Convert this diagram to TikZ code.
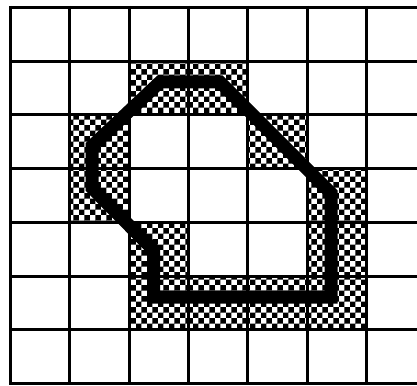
\documentclass[tikz,border=0pt]{standalone}
\usetikzlibrary{patterns}
\begin{document}
\begin{tikzpicture}[x=1pt,y=-1pt,
  cell/.style={pattern=checkerboard, pattern color=black},
  gridline/.style={line width=3pt},
  outline/.style={line width=13pt, line join=miter}]
\useasboundingbox (0,0) rectangle (417,385);
\begin{scope}
\clip (0,0) rectangle (417,385);
\foreach \c/\r in {2/1,3/1,1/2,4/2,1/3,5/3,2/4,5/4,2/5,3/5,4/5,5/5}
  \fill[cell] ({10.5+59.33*\c},{7.5+53.7*\r}) rectangle ++(59.33,53.7);
\draw[outline] (160,82) -- (220,82) -- (310,172) -- (331,193) -- (331,297) -- (153.5,297) -- (153.5,250) -- (92,188) -- (92,146) -- cycle;
\foreach \k in {0,...,7} \draw[gridline] (9,{7.5+53.7*\k}) -- (417,{7.5+53.7*\k});
\foreach \k in {0,...,6} \draw[gridline] ({10.5+59.33*\k},6) -- ({10.5+59.33*\k},385);
\end{scope}
\end{tikzpicture}
\end{document}
